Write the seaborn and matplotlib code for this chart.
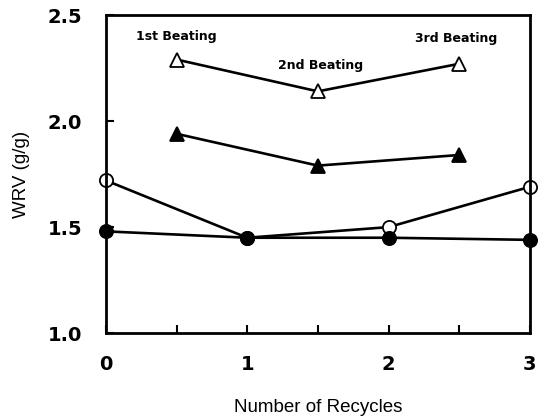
import matplotlib
matplotlib.use("Agg")
import matplotlib.pyplot as plt
import seaborn as sns
import pandas as pd

sns.set_style("ticks")
plt.rcParams['font.family'] = ['Liberation Sans', 'DejaVu Sans']
plt.rcParams['text.color'] = 'black'
plt.rcParams['axes.labelcolor'] = 'black'
plt.rcParams['axes.edgecolor'] = 'black'
plt.rcParams['xtick.color'] = 'black'
plt.rcParams['ytick.color'] = 'black'

beat_x = [0.5, 1.5, 2.5]
open_tri = [2.29, 2.14, 2.27]
filled_tri = [1.94, 1.79, 1.84]
recycle_x = [0, 1, 2, 3]
open_circ = [1.72, 1.45, 1.50, 1.69]
filled_circ = [1.48, 1.45, 1.45, 1.44]
beat_labels = ["1st Beating", "2nd Beating", "3rd Beating"]
beat_label_x = [0.50, 1.52, 2.48]
beat_label_y = [2.40, 2.26, 2.39]

fig = plt.figure(figsize=(5.49, 4.17), dpi=100)
ax = fig.add_axes([0.193, 0.201, 0.772, 0.763])

series = [
    (recycle_x, open_circ, 'o', 'white'),
    (recycle_x, filled_circ, 'o', 'black'),
    (beat_x, filled_tri, '^', 'black'),
    (beat_x, open_tri, '^', 'white'),
]
for xs, ys, mk, fc in series:
    df = pd.DataFrame({"x": xs, "y": ys})
    sns.lineplot(data=df, x="x", y="y", ax=ax, color='black', lw=1.9,
                 marker=mk, markersize=9.5, markerfacecolor=fc,
                 markeredgecolor='black', markeredgewidth=1.3, clip_on=False)

for x, y, t in zip(beat_label_x, beat_label_y, beat_labels):
    ax.text(x, y, t, ha='center', va='center', fontsize=9, fontweight='bold',
            family='DejaVu Sans', color='black')

ax.set_xlim(0, 3)
ax.set_ylim(1.0, 2.5)
ax.set_xticks([0, 0.5, 1, 1.5, 2, 2.5, 3])
ax.set_xticklabels(['0', '', '1', '', '2', '', '3'])
ax.set_yticks([1.0, 1.5, 2.0, 2.5])
ax.set_yticklabels(['1.0', '1.5', '2.0', '2.5'])
ax.tick_params(axis='x', direction='in', length=6, width=1.5, pad=16)
ax.tick_params(axis='y', direction='in', length=6, width=1.5, pad=17)
for lbl in ax.get_xticklabels() + ax.get_yticklabels():
    lbl.set_fontweight('bold')
    lbl.set_fontsize(14)
    lbl.set_family('DejaVu Sans')
for s in ax.spines.values():
    s.set_linewidth(2)
    s.set_visible(True)
    s.set_color('black')
ax.set_xlabel("Number of Recycles", fontsize=13.5, labelpad=18)
ax.set_ylabel("WRV (g/g)", fontsize=13.5, labelpad=13)

fig.savefig("out.png", dpi=100)
